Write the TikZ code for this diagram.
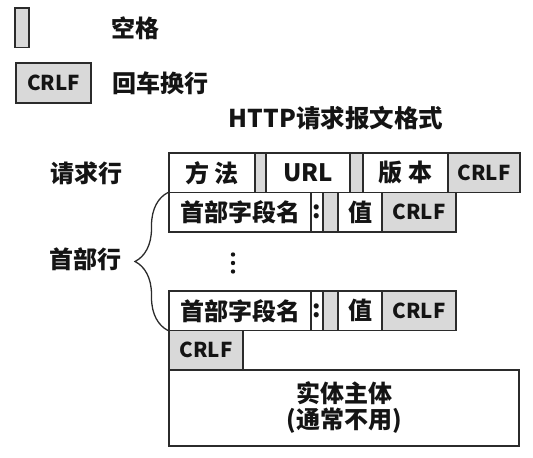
\documentclass[tikz,border=0pt]{standalone}
\usepackage{fontspec}
\setmainfont{Noto Sans CJK SC}
\usepackage{xcolor}
\usetikzlibrary{positioning, decorations.pathreplacing}

\definecolor{cellgray}{HTML}{D9D9D9}
\definecolor{linegray}{HTML}{2B2B2B}

\tikzset{
  cell/.style={draw=linegray, line width=1.5pt, fill=white, minimum height=39.5pt,
    inner sep=0pt, outer sep=0pt, text=black!92, font=\bfseries\fontsize{24}{26}\selectfont},
  gapcell/.style={cell, fill=cellgray},
  crlfcell/.style={cell, fill=cellgray, font=\bfseries\fontsize{20.5}{22}\selectfont},
  label/.style={text=black!92, font=\bfseries\fontsize{24}{26}\selectfont},
}

\begin{document}
\begin{tikzpicture}[x=1pt, y=-1pt]
    \useasboundingbox (0,0) rectangle (533,458);

    % legend
    \node[gapcell, anchor=north west, minimum width=14pt] (keySpace) at (15,8) {};
    \node[label] (keySpaceText) at (135,28) {空格};
    \node[crlfcell, anchor=north west, minimum width=75pt, minimum height=40pt] (keyCrlf) at (16,63) {CRLF};
    \node[label] (keyCrlfText) at (160,83) {回车换行};

    \node[label, font=\bfseries\fontsize{24.5}{28}\selectfont] (title) at (336,118) {HTTP请求报文格式};

    % request line
    \node[label] (reqLabel) at (86,173) {请求行};
    \node[cell, anchor=north west, minimum width=86pt] (method) at (169,153) {方 法};
    \node[gapcell, right=0pt of method, minimum width=11pt] (sp1) {};
    \node[cell, right=0pt of sp1, minimum width=84pt] (url) {URL};
    \node[gapcell, right=0pt of url, minimum width=13pt] (sp2) {};
    \node[cell, right=0pt of sp2, minimum width=85pt] (version) {版 本};
    \node[crlfcell, right=0pt of version, minimum width=72pt] (crlfReq) {CRLF};

    % first header line
    \node[cell, anchor=north west, minimum width=142pt] (name1) at (method.south west) {首部字段名};
    \node[cell, right=0pt of name1, minimum width=12pt] (colon1) {:};
    \node[gapcell, right=0pt of colon1, minimum width=15pt] (sp3) {};
    \node[cell, right=0pt of sp3, minimum width=44pt] (value1) {值};
    \node[crlfcell, right=0pt of value1, minimum width=74pt] (crlf1) {CRLF};

    \node[inner sep=0pt] (dots) at (233,263) {};
    \foreach \dy in {-8.5,0,8.5}
        \fill[black!92] ([yshift=\dy pt]dots) circle (2.2pt);

    % last header line
    \node[cell, anchor=north west, minimum width=142pt] (name2) at (169,291) {首部字段名};
    \node[cell, right=0pt of name2, minimum width=12pt] (colon2) {:};
    \node[gapcell, right=0pt of colon2, minimum width=15pt] (sp4) {};
    \node[cell, right=0pt of sp4, minimum width=44pt] (value2) {值};
    \node[crlfcell, right=0pt of value2, minimum width=74pt] (crlf2) {CRLF};

    % empty line and body
    \node[crlfcell, anchor=north west, minimum width=74pt] (crlfEnd) at (name2.south west) {CRLF};
    \node[cell, anchor=north west, minimum width=350pt, minimum height=76pt, align=center] (body) at (crlfEnd.south west) {实体主体\\(通常不用)};

    % header brace
    \draw[linegray, line width=1.3pt, decorate, decoration={brace, amplitude=33pt, aspect=0.5}]
        ([xshift=-1pt]name2.south west) -- ([xshift=-1pt]name1.north west);
    \node[label] (hdrLabel) at (85,259) {首部行};
\end{tikzpicture}
\end{document}
